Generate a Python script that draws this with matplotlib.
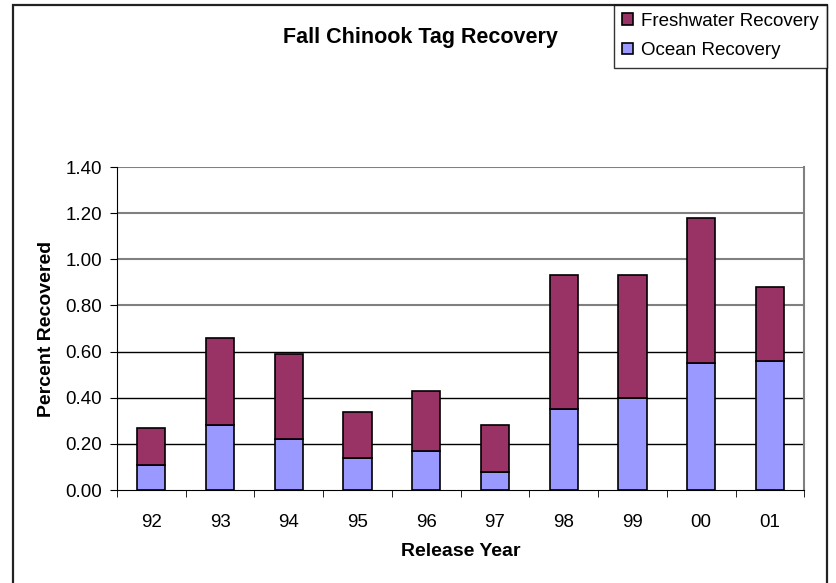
import matplotlib.pyplot as plt
import numpy as np
from matplotlib.patches import Rectangle

plt.rcParams['font.family'] = ['Liberation Sans', 'DejaVu Sans']

years = ['92', '93', '94', '95', '96', '97', '98', '99', '00', '01']
ocean = [0.11, 0.28, 0.22, 0.14, 0.17, 0.08, 0.35, 0.40, 0.55, 0.56]
fresh = [0.16, 0.38, 0.37, 0.20, 0.26, 0.20, 0.58, 0.53, 0.63, 0.32]
yticks = [0.0, 0.2, 0.4, 0.6, 0.8, 1.0, 1.2, 1.4]

fig = plt.figure(figsize=(8.36, 5.83), dpi=100)
ax = fig.add_axes([0.14, 0.1595, 0.822, 0.554])

# outer chart border
fig.patches.append(Rectangle((12.5 / 836, -0.01), (827 - 12.5) / 836, 1 - 4.5 / 583 + 0.01,
                             transform=fig.transFigure, fill=False, ec='#222222', lw=1.6))

x = np.arange(len(years))
# gridlines (upper ones render grey in the original)
for v in yticks[1:]:
    ax.axhline(v, color='black' if v < 0.7 else '#808080', lw=1.0 if v < 0.7 else 1.5, zorder=0)

ax.bar(x, ocean, width=0.41, color='#9999FF', edgecolor='black', lw=1.2, label='Ocean Recovery', zorder=2)
ax.bar(x, fresh, width=0.41, bottom=ocean, color='#993366', edgecolor='black', lw=1.2,
       label='Freshwater Recovery', zorder=2)

ax.set_xlim(-0.5, len(years) - 0.5)
ax.set_ylim(0, 1.4)
ax.set_yticks(yticks)
ax.set_yticklabels(['%.2f' % v for v in yticks], fontsize=13.5)
ax.set_xticks(x)
ax.set_xticklabels(years, fontsize=13.5)
ax.set_xticks(np.arange(len(years) + 1) - 0.5, minor=True)
ax.tick_params(axis='x', which='major', length=0, pad=17)
ax.tick_params(axis='x', which='minor', length=5, direction='out', color='black')
ax.tick_params(axis='y', length=5, direction='out', pad=6)

ax.spines['top'].set_visible(False)
ax.spines['right'].set_color('#808080')
ax.spines['right'].set_linewidth(1.5)
ax.spines['left'].set_color('black')
ax.spines['bottom'].set_color('black')

ax.set_xlabel('Release Year', fontsize=14, fontweight='bold', labelpad=9)
ax.set_ylabel('Percent Recovered', fontsize=14, fontweight='bold', labelpad=7)

fig.text(420 / 836, 1 - 37 / 583, 'Fall Chinook Tag Recovery', ha='center', va='center',
         fontsize=15.5, fontweight='bold')

handles, labels = ax.get_legend_handles_labels()
leg = fig.legend(handles[::-1], labels[::-1], loc='upper right', bbox_to_anchor=(827 / 836, 1 - 4.5 / 583),
                 fontsize=13.5, frameon=True, fancybox=False, edgecolor='black', handlelength=0.6,
                 handleheight=0.6, handletextpad=0.4, borderpad=0.45, labelspacing=0.65, borderaxespad=0)
leg.get_frame().set_linewidth(1.0)

fig.savefig('out.png', dpi=100)
